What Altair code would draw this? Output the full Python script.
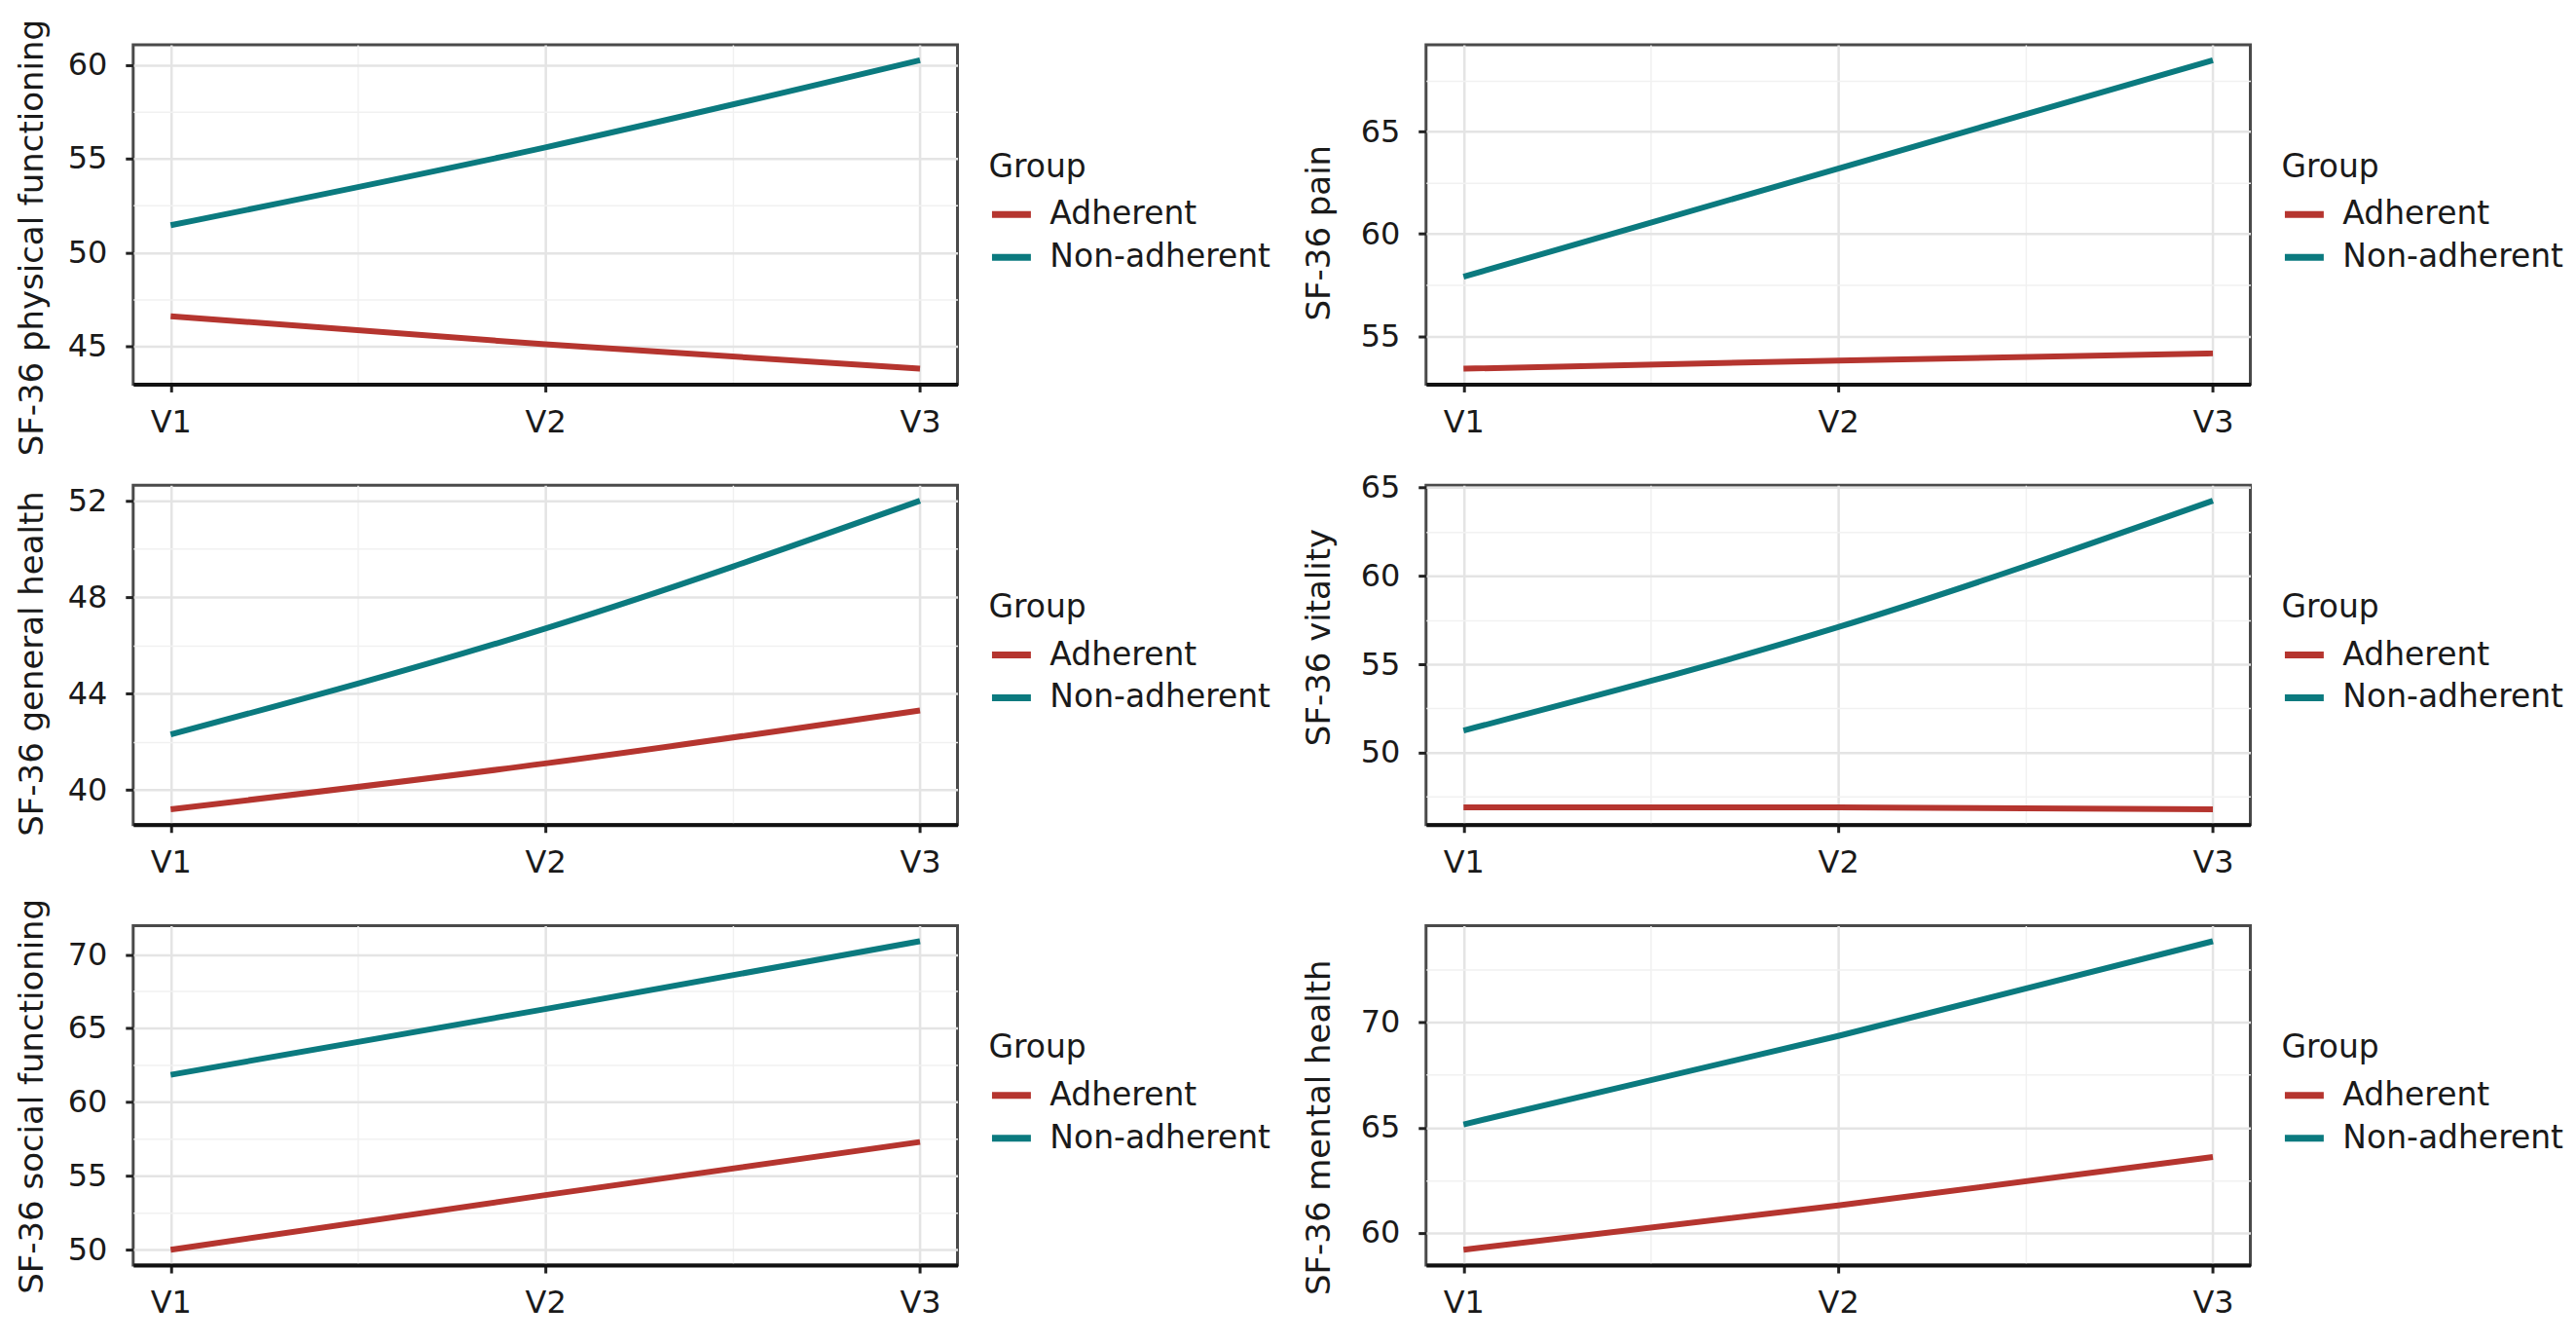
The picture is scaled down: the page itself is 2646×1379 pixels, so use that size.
import json
import altair as alt
import pandas as pd

# ---------------- data ----------------
visits = ["V1", "V2", "V3"]
groups = ["Adherent", "Non-adherent"]
colors = ["#B5352F", "#0B7A7F"]

titles = [
    "SF-36 physical functioning",
    "SF-36 pain",
    "SF-36 general health",
    "SF-36 vitality",
    "SF-36 social functioning",
    "SF-36 mental health",
]

adherent_physical = [46.6, 45.1, 43.8]
nonadherent_physical = [51.45, 55.6, 60.25]
adherent_pain = [53.4, 53.8, 54.15]
nonadherent_pain = [57.9, 63.2, 68.5]
adherent_general = [39.2, 41.1, 43.3]
nonadherent_general = [42.3, 46.7, 52.0]
adherent_vitality = [46.9, 46.9, 46.8]
nonadherent_vitality = [51.25, 57.1, 64.25]
adherent_social = [50.0, 53.7, 57.3]
nonadherent_social = [61.85, 66.3, 70.9]
adherent_mental = [59.2, 61.3, 63.6]
nonadherent_mental = [65.15, 69.35, 73.85]

ticks_physical = [45, 50, 55, 60]
ticks_pain = [55, 60, 65]
ticks_general = [40, 44, 48, 52]
ticks_vitality = [50, 55, 60, 65]
ticks_social = [50, 55, 60, 65, 70]
ticks_mental = [60, 65, 70]

# ---------------- styling ----------------
FONT = "DejaVu Sans"
TXT = "#1a1a1a"
W, H = 848, 349
MAJOR_GRID = "#e4e4e4"
MINOR_GRID = "#f1f1f1"

panels_spec = [
    (titles[0], adherent_physical, nonadherent_physical, ticks_physical, -93, 198),
    (titles[1], adherent_pain, nonadherent_pain, ticks_pain, -99, 193),
    (titles[2], adherent_general, nonadherent_general, ticks_general, -93, 183),
    (titles[3], adherent_vitality, nonadherent_vitality, ticks_vitality, -99, 156),
    (titles[4], adherent_social, nonadherent_social, ticks_social, -93, 175),
    (titles[5], adherent_mental, nonadherent_mental, ticks_mental, -99, 207),
]


def make_panel(title, adh, non, majors, title_x, title_y):
    rows = []
    for g, vals in zip(groups, [adh, non]):
        for i, v in enumerate(vals):
            rows.append({"visit": i + 1, "group": g, "value": v})
    df = pd.DataFrame(rows)

    allv = list(adh) + list(non)
    lo, hi = min(allv), max(allv)
    pad = (hi - lo) * 0.05
    lo, hi = lo - pad, hi + pad

    step = majors[1] - majors[0]
    half = step / 2
    yvals = []
    v = majors[0] - step
    while v <= majors[-1] + step + 1e-9:
        if lo <= v <= hi:
            yvals.append(round(v, 4))
        v += half

    n = len(visits)
    xpad = (n - 1) * 0.05
    xvals = [k / 2 for k in range(2, 2 * n + 1)]
    xtest = "datum.value % 1 == 0"
    ytest = f"datum.value % {step} == 0"

    x_axis = alt.Axis(
        title=None,
        values=xvals,
        labelExpr=f"{xtest} ? {json.dumps(visits)}[datum.value - 1] : ''",
        labelFontSize=32,
        labelColor=TXT,
        labelFont=FONT,
        labelPadding=16,
        tickSize=8,
        tickWidth=3,
        tickColor="#222222",
        tickOpacity={"condition": {"test": xtest, "value": 1}, "value": 0},
        gridColor={"condition": {"test": xtest, "value": MAJOR_GRID}, "value": MINOR_GRID},
        gridWidth={"condition": {"test": xtest, "value": 2.5}, "value": 1.5},
        domain=True,
        domainColor="#111111",
        domainWidth=4,
    )
    y_axis = alt.Axis(
        title=title,
        values=yvals,
        labelExpr=f"{ytest} ? datum.label : ''",
        labelFontSize=32,
        labelColor=TXT,
        labelFont=FONT,
        labelPadding=19,
        tickSize=8,
        tickWidth=3,
        tickColor="#222222",
        tickOpacity={"condition": {"test": ytest, "value": 1}, "value": 0},
        gridColor={"condition": {"test": ytest, "value": MAJOR_GRID}, "value": MINOR_GRID},
        gridWidth={"condition": {"test": ytest, "value": 2.5}, "value": 1.5},
        domain=False,
        titleFontSize=34,
        titleFont=FONT,
        titleFontWeight="normal",
        titleColor=TXT,
        titleAngle=270,
        titleAlign="center",
        titleBaseline="alphabetic",
        titleX=title_x,
        titleY=title_y,
        titleLimit=0,
    )
    legend = alt.Legend(
        title="Group",
        orient="none",
        legendX=880,
        legendY=110,
        symbolType="stroke",
        symbolSize=1600,
        symbolStrokeWidth=7,
        labelFontSize=33,
        labelFont=FONT,
        labelColor=TXT,
        labelOffset=16,
        labelLimit=0,
        titleFontSize=33,
        titleFont=FONT,
        titleFontWeight="normal",
        titleColor=TXT,
        titlePadding=8,
        titleLimit=0,
        rowPadding=3,
    )
    return (
        alt.Chart(df)
        .mark_line(strokeWidth=6, interpolate="monotone")
        .encode(
            x=alt.X(
                "visit:Q",
                scale=alt.Scale(domain=[1 - xpad, n + xpad], nice=False, zero=False),
                axis=x_axis,
            ),
            y=alt.Y(
                "value:Q",
                scale=alt.Scale(domain=[lo, hi], nice=False, zero=False),
                axis=y_axis,
            ),
            color=alt.Color(
                "group:N",
                scale=alt.Scale(domain=groups, range=colors),
                legend=legend,
            ),
        )
        .properties(width=W, height=H)
    )


panels = [make_panel(*p) for p in panels_spec]

chart = (
    alt.concat(*panels, columns=2, spacing={"row": 104, "column": 482}, bounds="flush")
    .resolve_scale(color="independent")
    .resolve_legend(color="independent")
    .properties(padding={"left": 7, "top": 8, "right": 2, "bottom": 8}, background="white")
    .configure(font=FONT)
    .configure_view(stroke="#4a4a4a", strokeWidth=3)
)

chart.save("out.html", embed_options={"renderer": "svg", "actions": False})
